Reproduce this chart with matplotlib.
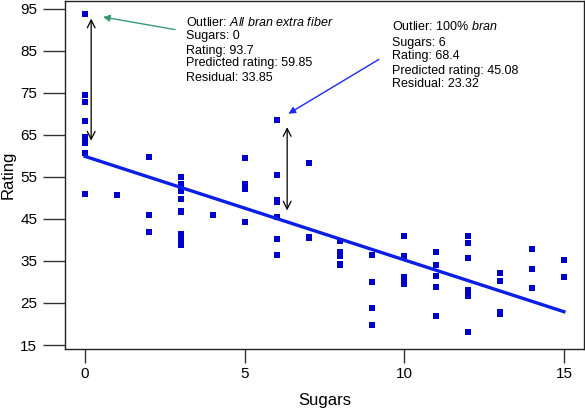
import matplotlib
matplotlib.use("Agg")
import matplotlib.pyplot as plt
import numpy as np

plt.rcParams['font.family'] = ['Liberation Sans', 'DejaVu Sans']
plt.rcParams['mathtext.fontset'] = 'custom'
plt.rcParams['mathtext.rm'] = 'Liberation Sans'
plt.rcParams['mathtext.it'] = 'Liberation Sans:italic'

sugars = [6, 8, 5, 0, 8, 10, 14, 8, 6, 5, 12, 1, 9, 7, 13, 3, 2, 12, 13, 7,
          0, 3, 10, 5, 13, 11, 7, 10, 12, 12, 15, 9, 5, 3, 4, 11, 10, 11, 6, 9,
          3, 6, 12, 3, 11, 11, 13, 6, 9, 7, 2, 10, 14, 3, 0, 0, 6, 0, 12, 8,
          6, 2, 3, 0, 0, 0, 15, 3, 5, 3, 14, 3, 3, 12, 3, 3, 8]
rating = [68.40, 33.98, 59.43, 93.70, 34.38, 29.51, 33.17, 37.04, 49.12, 53.31,
          18.04, 50.76, 19.82, 40.40, 22.74, 41.45, 45.86, 35.78, 22.40, 40.45,
          64.53, 46.90, 36.18, 44.33, 32.21, 31.44, 58.35, 40.92, 41.02, 28.03,
          35.25, 23.80, 52.08, 53.37, 45.81, 21.87, 31.07, 28.74, 36.52, 36.47,
          39.24, 45.33, 26.73, 54.85, 37.14, 34.14, 30.31, 40.11, 29.92, 40.69,
          59.64, 30.45, 37.84, 41.50, 60.76, 63.01, 49.51, 50.83, 39.26, 39.70,
          55.33, 41.99, 40.56, 68.24, 74.47, 72.80, 31.23, 53.13, 59.36, 38.84,
          28.59, 46.66, 39.11, 27.75, 49.79, 51.59, 36.19]

intercept = 59.85
slope = -2.4617
line_x = [0, 15]

fig = plt.figure(figsize=(5.85, 4.08), dpi=100)
ax = fig.add_axes([65/585, 59/408, 519/585, 348/408])

ax.plot(sugars, rating, linestyle='none', marker='s', markersize=4.2,
        color='#0000cc', markeredgewidth=0)
lx = np.array(line_x)
ax.plot(lx, intercept + slope * lx, color='#0a1ee6', linewidth=2.4)

ax.set_xlim(-0.63, 15.63)
ax.set_ylim(14.05, 96.8)
ax.set_xticks([0, 5, 10, 15])
ax.set_yticks([15, 25, 35, 45, 55, 65, 75, 85, 95])
ax.tick_params(labelsize=11, width=1, color='#333333')
ax.tick_params(axis='y', length=16, pad=4)
ax.tick_params(axis='x', length=10, pad=3)
ax.set_xlabel('Sugars', fontsize=12, va='center')
ax.set_ylabel('Rating', fontsize=12, va='center')
ax.xaxis.set_label_coords(0.5, (349 - 400) / 348)
ax.yaxis.set_label_coords((8 - 65) / 519, 0.5)
for s in ax.spines.values():
    s.set_color('#222222')
    s.set_linewidth(1)

# double-headed residual arrows
ax.annotate('', xy=(0.19, 92.6), xytext=(0.19, 63.6),
            arrowprops=dict(arrowstyle='<->', color='black', lw=0.9,
                            mutation_scale=14, shrinkA=0, shrinkB=0))
ax.annotate('', xy=(6.33, 66.8), xytext=(6.33, 47.0),
            arrowprops=dict(arrowstyle='<->', color='black', lw=0.9,
                            mutation_scale=14, shrinkA=0, shrinkB=0))

# pointer arrows
ax.annotate('', xy=(0.56, 93.0), xytext=(2.82, 90.0),
            arrowprops=dict(arrowstyle='-|>', color='#3a9a72', lw=1,
                            mutation_scale=10, shrinkA=0, shrinkB=0))
ax.annotate('', xy=(6.37, 70.0), xytext=(9.2, 82.9),
            arrowprops=dict(arrowstyle='-|>', color='#1a2af0', lw=1,
                            mutation_scale=10, shrinkA=0, shrinkB=0))

fs = 9
def txt(xp, yp, s, **kw):
    fig.text(xp / 585, 1 - yp / 408, s, fontsize=fs, va='center', ha='left', **kw)

txt(186, 22, 'Outlier: $\\it{All\\ bran\\ extra\\ fiber}$')
txt(186, 36, 'Sugars: 0')
txt(186, 51, 'Rating: 93.7')
txt(186, 63, 'Predicted rating: 59.85')
txt(186, 78, 'Residual: 33.85')

txt(392, 27, 'Outlier: 100% $\\it{bran}$')
txt(392, 43, 'Sugars: 6')
txt(392, 56, 'Rating: 68.4')
txt(392, 71, 'Predicted rating: 45.08')
txt(392, 84, 'Residual: 23.32')

fig.savefig('out.png', dpi=100)
